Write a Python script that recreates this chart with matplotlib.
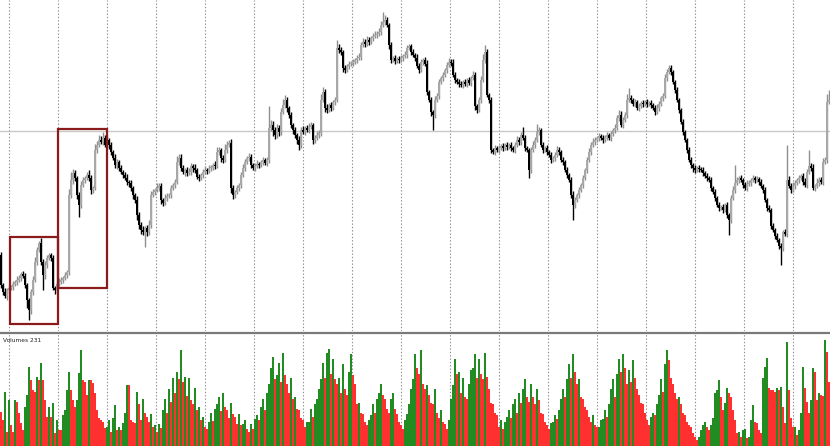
import numpy as np
import matplotlib
matplotlib.use("Agg")
import matplotlib.pyplot as plt
from matplotlib.patches import Rectangle

# hourly closes (points)
close = [48, 41, 37, 43, 45, 46, 49, 51, 53, 55, 59, 57, 48, 33, 23, 41, 53, 71, 83, 90, 71, 58, 68, 75, 78,
         75, 45, 43, 49, 51, 53, 55, 58, 61, 138, 153, 160, 155, 138, 128, 148, 153, 155, 158, 155, 143, 145, 183, 188, 193,
         191, 195, 188, 193, 188, 181, 175, 168, 171, 165, 161, 158, 155, 151, 150, 145, 138, 133, 118, 108, 103, 101, 105, 101, 108,
         138, 141, 143, 145, 147, 133, 130, 135, 137, 138, 145, 148, 151, 171, 175, 165, 161, 163, 160, 161, 167, 165, 163, 156, 155,
         158, 161, 163, 162, 165, 165, 168, 167, 181, 183, 175, 173, 183, 188, 190, 145, 138, 141, 145, 148, 158, 165, 171, 175, 176,
         168, 165, 167, 169, 168, 171, 173, 170, 173, 205, 208, 203, 198, 205, 201, 221, 228, 233, 225, 218, 208, 203, 198, 193, 188,
         203, 201, 205, 203, 206, 208, 193, 195, 198, 200, 233, 241, 225, 223, 228, 225, 231, 233, 285, 283, 281, 265, 263, 267, 269,
         270, 271, 273, 275, 276, 288, 291, 289, 293, 291, 295, 297, 298, 299, 301, 308, 311, 313, 308, 288, 273, 275, 272, 274, 273,
         275, 277, 278, 285, 287, 281, 278, 275, 267, 263, 271, 273, 269, 241, 233, 221, 218, 233, 237, 251, 255, 258, 263, 268, 271,
         270, 258, 253, 251, 249, 248, 251, 249, 253, 250, 255, 258, 227, 223, 233, 253, 273, 281, 238, 233, 183, 181, 185, 183, 185,
         187, 185, 188, 186, 188, 185, 183, 188, 193, 191, 198, 195, 185, 183, 163, 183, 188, 193, 201, 203, 188, 183, 185, 181, 178,
         173, 175, 178, 183, 181, 173, 171, 163, 158, 153, 138, 128, 133, 138, 143, 148, 155, 163, 173, 181, 188, 191, 193, 195, 197,
         195, 193, 196, 198, 195, 199, 203, 205, 215, 218, 208, 213, 218, 233, 235, 233, 229, 231, 225, 227, 230, 229, 231, 229, 230,
         228, 225, 221, 225, 229, 235, 237, 255, 261, 265, 261, 251, 243, 233, 223, 211, 201, 193, 183, 173, 168, 165, 163, 165, 164,
         163, 160, 157, 155, 153, 145, 141, 135, 128, 125, 126, 123, 128, 118, 113, 135, 143, 150, 153, 155, 153, 148, 145, 149, 150,
         153, 155, 153, 154, 151, 147, 143, 133, 125, 123, 107, 103, 97, 93, 87, 85, 101, 99, 153, 147, 143, 147, 150, 153, 155,
         157, 151, 148, 161, 167, 165, 145, 147, 150, 153, 151, 171, 173, 231, 233]
first_open = 78

wick_up = [3, 2, 4, 2, 3, 2, 3, 2, 4, 3, 2, 3, 3, 2, 2, 3, 4, 5, 3, 2, 5, 3, 4, 3, 2,
           2, 3, 2, 3, 4, 3, 2, 3, 2, 6, 8, 4, 3, 2, 3, 4, 3, 2, 3, 5, 3, 2, 6, 4, 5,
           4, 6, 3, 5, 2, 3, 2, 4, 3, 2, 3, 2, 3, 4, 2, 3, 2, 2, 4, 3, 3, 4, 2, 3, 5,
           4, 3, 2, 5, 3, 3, 2, 4, 3, 2, 3, 2, 3, 6, 4, 4, 3, 2, 3, 4, 3, 2, 4, 2, 3,
           2, 3, 4, 2, 3, 3, 2, 4, 5, 3, 2, 3, 6, 4, 3, 4, 3, 2, 3, 2, 3, 4, 3, 2, 4,
           3, 2, 3, 4, 2, 2, 3, 2, 3, 22, 5, 4, 3, 4, 3, 4, 6, 5, 3, 2, 3, 2, 3, 2, 4,
           3, 4, 2, 3, 4, 3, 2, 3, 4, 3, 6, 5, 3, 4, 2, 3, 2, 3, 8, 4, 3, 2, 3, 2, 3,
           2, 3, 2, 3, 4, 3, 4, 3, 4, 3, 2, 3, 4, 3, 4, 4, 10, 5, 3, 2, 3, 2, 3, 2, 3,
           3, 2, 4, 3, 2, 2, 3, 2, 4, 3, 3, 2, 3, 4, 2, 3, 2, 4, 3, 3, 2, 3, 2, 3, 4,
           3, 4, 3, 2, 3, 3, 2, 3, 2, 3, 2, 4, 3, 2, 3, 4, 6, 7, 3, 2, 3, 2, 3, 2, 3,
           2, 3, 2, 3, 2, 3, 2, 3, 4, 3, 3, 8, 3, 2, 2, 3, 4, 3, 8, 3, 2, 3, 2, 3, 2,
           3, 2, 3, 4, 3, 2, 3, 2, 3, 2, 3, 4, 3, 2, 3, 2, 3, 2, 3, 4, 3, 4, 3, 2, 3,
           2, 3, 2, 3, 2, 3, 2, 4, 3, 5, 4, 3, 3, 6, 10, 3, 2, 3, 2, 3, 2, 3, 2, 3, 2,
           3, 2, 3, 4, 3, 2, 3, 4, 3, 3, 3, 2, 2, 3, 2, 2, 3, 2, 2, 3, 3, 2, 3, 2, 3,
           2, 3, 2, 3, 2, 3, 2, 3, 2, 3, 2, 3, 2, 3, 2, 3, 4, 18, 3, 2, 3, 2, 3, 4, 3,
           2, 3, 2, 3, 2, 3, 2, 3, 2, 3, 2, 3, 2, 3, 2, 3, 2, 3, 35, 4, 3, 4, 3, 2, 3,
           2, 3, 4, 3, 16, 3, 4, 2, 5, 3, 3, 4, 3, 8, 10]

wick_dn = [3, 3, 2, 4, 3, 2, 3, 2, 3, 2, 3, 2, 3, 8, 10, 4, 3, 2, 3, 2, 3, 15, 4, 3, 2,
           3, 2, 4, 3, 2, 2, 3, 2, 3, 3, 3, 4, 3, 4, 12, 3, 2, 3, 2, 3, 4, 3, 2, 3, 2,
           2, 3, 2, 3, 4, 3, 2, 3, 4, 3, 2, 3, 2, 3, 4, 3, 4, 3, 5, 4, 4, 3, 15, 4, 3,
           3, 2, 3, 2, 3, 4, 3, 2, 3, 2, 3, 2, 3, 2, 3, 3, 2, 4, 3, 2, 3, 4, 3, 2, 3,
           2, 3, 2, 3, 2, 3, 2, 3, 2, 3, 4, 3, 2, 3, 2, 5, 4, 3, 2, 3, 3, 2, 3, 2, 3,
           3, 2, 3, 2, 3, 2, 3, 2, 3, 3, 3, 6, 4, 3, 4, 3, 2, 3, 4, 3, 3, 4, 3, 4, 5,
           3, 2, 3, 2, 3, 2, 4, 3, 2, 3, 3, 2, 4, 3, 2, 3, 2, 3, 2, 3, 3, 4, 3, 2, 3,
           2, 3, 2, 3, 2, 3, 2, 3, 2, 3, 2, 3, 2, 3, 2, 3, 2, 3, 2, 4, 3, 2, 3, 2, 3,
           2, 3, 2, 3, 2, 3, 2, 3, 2, 3, 2, 3, 2, 3, 2, 4, 15, 3, 2, 3, 2, 3, 2, 3, 2,
           3, 2, 3, 2, 3, 2, 3, 2, 3, 2, 3, 2, 4, 3, 2, 3, 2, 3, 2, 3, 3, 2, 3, 2, 3,
           2, 3, 2, 3, 2, 3, 2, 3, 2, 3, 3, 2, 3, 2, 8, 3, 2, 3, 2, 3, 2, 3, 2, 3, 2,
           3, 2, 3, 2, 3, 2, 3, 2, 3, 2, 3, 15, 3, 2, 3, 2, 3, 2, 3, 2, 3, 2, 3, 2, 3,
           2, 3, 2, 3, 2, 3, 2, 3, 2, 3, 2, 3, 2, 3, 2, 3, 2, 3, 2, 3, 2, 3, 2, 3, 2,
           3, 2, 3, 2, 3, 2, 3, 2, 3, 2, 3, 2, 3, 2, 3, 2, 3, 2, 3, 2, 3, 4, 3, 2, 3,
           2, 3, 2, 3, 2, 3, 2, 3, 2, 3, 2, 3, 2, 3, 15, 3, 2, 3, 2, 3, 2, 3, 2, 3, 2,
           3, 2, 3, 2, 3, 2, 3, 2, 3, 2, 3, 2, 3, 2, 3, 17, 3, 2, 3, 2, 3, 2, 3, 2, 3,
           2, 3, 2, 3, 2, 3, 2, 3, 2, 3, 2, 3, 2, 3, 2]

volume = [122, 94, 194, 50, 166, 76, 50, 166, 158, 119, 83, 58, 140, 184, 284, 238, 202, 194, 248, 238,
          299, 238, 166, 104, 140, 104, 155, 47, 94, 58, 58, 112, 130, 202, 266, 202, 166, 140, 166, 263,
          346, 238, 230, 184, 238, 238, 227, 191, 130, 101, 94, 86, 65, 68, 94, 50, 101, 148, 58, 68,
          58, 83, 119, 220, 220, 94, 86, 83, 194,
          150, 95, 170, 120, 105, 85, 115, 70, 75, 50, 80, 65, 130, 170, 120, 205, 160, 245, 190, 265,
          240, 345, 230, 250, 180, 245, 165, 150, 210, 130, 140, 95, 105, 68, 60, 85, 120, 90, 135, 150,
          175, 125, 190, 140, 130, 100, 155, 115, 105, 80, 115, 75, 80, 95, 60, 50, 78, 60, 98, 110,
          95, 140, 170, 130, 190, 225, 280, 320, 240, 255, 300, 230, 335, 255, 225, 190, 245, 170, 175, 135,
          130, 100, 95, 70, 85, 88, 135, 105, 150, 170, 205, 240, 300, 245, 335, 350, 260, 315, 240, 225,
          245, 190, 295, 205, 185, 265, 330, 255, 225, 150, 155, 120, 115, 85, 75, 95, 110, 150, 120, 170,
          190, 225, 185, 170, 135, 120, 170, 190, 135, 115, 85, 75, 62, 95, 115, 150, 205, 240, 330, 280,
          260, 345, 225, 205, 220, 185, 155, 150, 205, 120, 100, 130, 85, 78, 62, 95, 170, 220, 315, 260,
          265, 190, 245, 175, 170, 225, 275, 280, 330, 245, 315, 260, 240, 335, 250, 205, 155, 150, 120, 112,
          70, 92, 62, 85, 105, 130, 100, 150, 168, 120, 190, 155, 205, 240, 175, 160, 225, 175, 150, 205,
          165, 120, 115, 88, 75, 62, 82, 88, 112, 98, 130, 168, 205, 175, 240, 295, 245, 330, 265, 225,
          240, 175, 170, 140, 130, 105, 88, 110, 75, 68, 70, 92, 98, 130, 105, 150, 205, 240, 175, 260,
          315, 265, 330, 280, 225, 275, 230, 310, 245, 205, 185, 155, 150, 120, 92, 75, 105, 120, 112, 150,
          185, 240, 195, 295, 345, 310, 245, 225, 190, 170, 175, 150, 120, 112, 88, 75,
          68, 47, 32, 22, 32, 58, 76, 86, 68, 58, 76, 101, 191, 202, 238, 176, 130, 155, 209, 191,
          176, 130, 94, 47, 50, 32, 58, 60, 29, 32, 94, 148, 86, 83, 58, 47, 245, 284, 317, 209,
          202, 200, 194, 209, 202, 212, 140, 83, 374, 202, 101, 68, 70, 40, 58, 119, 284, 209, 158, 119,
          166, 281, 266, 166, 191, 184, 180, 382, 338, 231]

# horizontal level and the two marked boxes (bar index, price)
level = 202
boxes = [(4.5, 9, 24, 87), (28.5, 45, 24.5, 159)]

n = len(close)
x = np.arange(n)
close = np.array(close)
opn = np.concatenate([[first_open], close[:-1]])
top = np.maximum(opn, close)
bot = np.minimum(opn, close)
high = top + np.array(wick_up)
low = bot - np.array(wick_dn)
up = close >= opn

fig = plt.figure(figsize=(8.3, 4.46), dpi=100)
ax = fig.add_axes([0, 115 / 446, 1, 331 / 446])
axv = fig.add_axes([0, 0, 1, 113 / 446])

grid_x = 4 + 24.5 * np.arange(17)
for a in (ax, axv):
    for g in grid_x:
        a.axvline(g, color="#8c8c8c", lw=0.8, linestyle=(0, (1.2, 1.8)), zorder=0)
    a.set_xlim(-0.5, n - 0.5)
    a.set_xticks([])
    a.set_yticks([])

ax.axhline(level, color="#c8c8c8", lw=1.0, zorder=1)

# candles: grey = rising bar, black = falling bar
ax.vlines(x, low, high, colors=np.where(up, "#8f8f8f", "#000000"), lw=1.0, zorder=2)
ax.bar(x, np.maximum(top - bot, 1.0), bottom=bot, width=0.9, color=np.where(up, "#a8a8a8", "#000000"),
       linewidth=0, zorder=3)

for bx, by, bw, bh in boxes:
    ax.add_patch(Rectangle((bx, by), bw, bh, fill=False, edgecolor="#8b1a1a", lw=1.6, zorder=4))

ax.set_ylim(2, 333)
for s in ax.spines.values():
    s.set_visible(False)

volume = np.array(volume)
vcol = ["#228b22" if i > 0 and volume[i] > volume[i - 1] else "#ff3030" for i in range(n)]
axv.bar(x, volume, width=0.55, color=vcol, linewidth=0, zorder=2)
axv.set_ylim(0, 407)
for s in ["left", "right", "bottom"]:
    axv.spines[s].set_visible(False)
axv.spines["top"].set_color("#7a7a7a")
axv.spines["top"].set_linewidth(1.6)
axv.text(0.004, 0.96, "Volumes 231", transform=axv.transAxes, fontsize=4.2, va="top", color="#222222")

fig.savefig("out.png", dpi=100)
